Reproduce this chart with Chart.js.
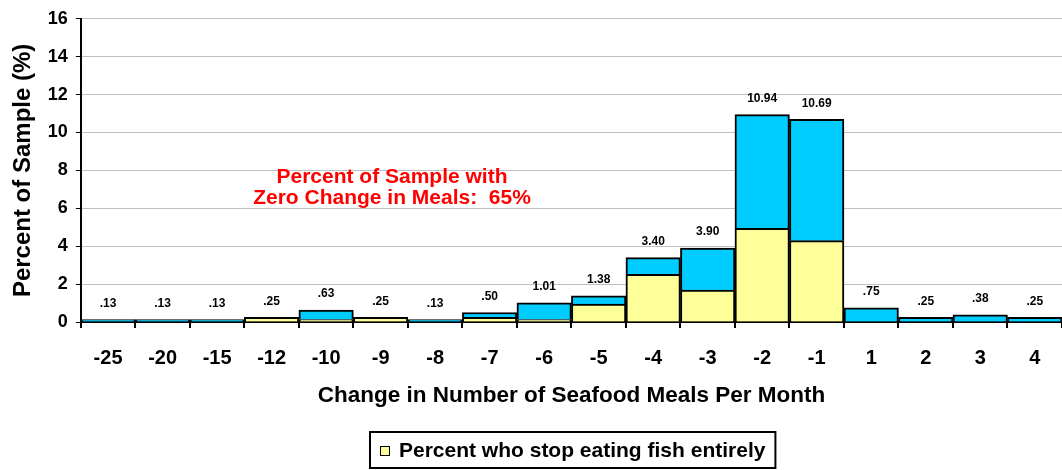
<!DOCTYPE html>
<html>
<head>
<meta charset="utf-8">
<script src="https://cdn.jsdelivr.net/npm/chart.js@4"></script>
<style>
  html, body { margin: 0; padding: 0; background: #fff; }
  #wrap { width: 1062px; height: 470px; }
</style>
</head>
<body>
<div id="wrap"><canvas id="seafoodChart"></canvas></div>
<script>
var categories = ['-25', '-20', '-15', '-12', '-10', '-9', '-8', '-7', '-6', '-5', '-4', '-3', '-2', '-1', '1', '2', '3', '4'];
var totals = [0.13, 0.13, 0.13, 0.25, 0.63, 0.25, 0.13, 0.50, 1.01, 1.38, 3.40, 3.90, 10.94, 10.69, 0.75, 0.25, 0.38, 0.25];
var stopEating = [0, 0, 0, 0.25, 0.13, 0.25, 0, 0.25, 0.13, 0.94, 2.51, 1.69, 4.94, 4.29, 0, 0, 0, 0];
var yTicks = [0, 2, 4, 6, 8, 10, 12, 14, 16];

var rest = totals.map(function(t, i) { return +(t - stopEating[i]).toFixed(2); });

function fmt(v) {
    var s = v.toFixed(2);
    return s.charAt(0) === '0' ? s.slice(1) : s;
}

var font = 'Liberation Sans, Arial, sans-serif';
var yellow = '#ffff99';
var blue = '#00ccff';

var extras = {
    id: 'extras',
    afterDatasetsDraw: function(chart) {
        var ctx = chart.ctx;
        var x = chart.scales.x, y = chart.scales.y;
        ctx.save();
        // totals above bars
        ctx.fillStyle = '#000';
        ctx.font = 'bold 12px ' + font;
        ctx.textAlign = 'center';
        ctx.textBaseline = 'middle';
        totals.forEach(function(t, i) {
            ctx.fillText(fmt(t), x.getPixelForValue(i), y.getPixelForValue(t) - 16);
        });
        // red note
        ctx.fillStyle = '#ff0000';
        ctx.font = 'bold 21px ' + font;
        ctx.fillText('Percent of Sample with', 392, 177);
        ctx.fillText('Zero Change in Meals:  65%', 392, 198);
        // legend (only the yellow series is listed)
        var label = chart.data.datasets[0].label;
        ctx.font = 'bold 21px ' + font;
        var tw = ctx.measureText(label).width;
        var boxW = 10 + 10 + 9 + tw + 10;
        var left = Math.round(573 - boxW / 2), top = 432;
        ctx.strokeStyle = '#000';
        ctx.lineWidth = 2;
        ctx.strokeRect(left, top, boxW, 36);
        ctx.fillStyle = yellow;
        ctx.lineWidth = 1;
        ctx.fillRect(left + 10, top + 14, 10, 10);
        ctx.strokeRect(left + 10.5, top + 14.5, 9, 9);
        ctx.fillStyle = '#000';
        ctx.textAlign = 'left';
        ctx.fillText(label, left + 29, top + 19);
        ctx.restore();
    }
};

var ctx = document.getElementById('seafoodChart').getContext('2d');
new Chart(ctx, {
    type: 'bar',
    data: {
        labels: categories,
        datasets: [
            {
                label: 'Percent who stop eating fish entirely',
                data: stopEating,
                backgroundColor: yellow,
                borderColor: '#000',
                borderWidth: 2
            },
            {
                label: 'Other',
                data: rest,
                backgroundColor: blue,
                borderColor: '#000',
                borderWidth: 2
            }
        ]
    },
    options: {
        responsive: true,
        maintainAspectRatio: false,
        animation: false,
        datasets: { bar: { barPercentage: 1, categoryPercentage: 1 } },
        layout: { padding: { top: 6, right: 0, left: 5, bottom: 61 } },
        plugins: {
            tooltip: { enabled: false },
            legend: { display: false }
        },
        scales: {
            x: {
                stacked: true,
                grid: { display: true, drawOnChartArea: false, offset: true, color: '#000', lineWidth: 2, tickLength: 6 },
                border: { color: '#000', width: 2 },
                ticks: { color: '#000', font: { family: font, size: 20, weight: 'bold' }, padding: 18, maxRotation: 0 },
                title: { display: true, text: 'Change in Number of Seafood Meals Per Month', color: '#000', font: { family: font, size: 22.5, weight: 'bold' }, padding: { top: -6, bottom: 0 } }
            },
            y: {
                stacked: true,
                min: 0,
                max: 16,
                afterBuildTicks: function(scale) {
                    scale.ticks = yTicks.map(function(v) { return { value: v }; });
                },
                grid: { color: '#c0c0c0', lineWidth: 1, tickLength: 5, tickColor: '#000' },
                border: { color: '#000', width: 2 },
                ticks: { color: '#000', font: { family: font, size: 18, weight: 'bold' }, padding: 8 },
                title: { display: true, text: 'Percent of Sample (%)', color: '#000', font: { family: font, size: 24, weight: 'bold' }, padding: { bottom: 2 } }
            }
        }
    },
    plugins: [extras]
});
</script>
</body>
</html>
